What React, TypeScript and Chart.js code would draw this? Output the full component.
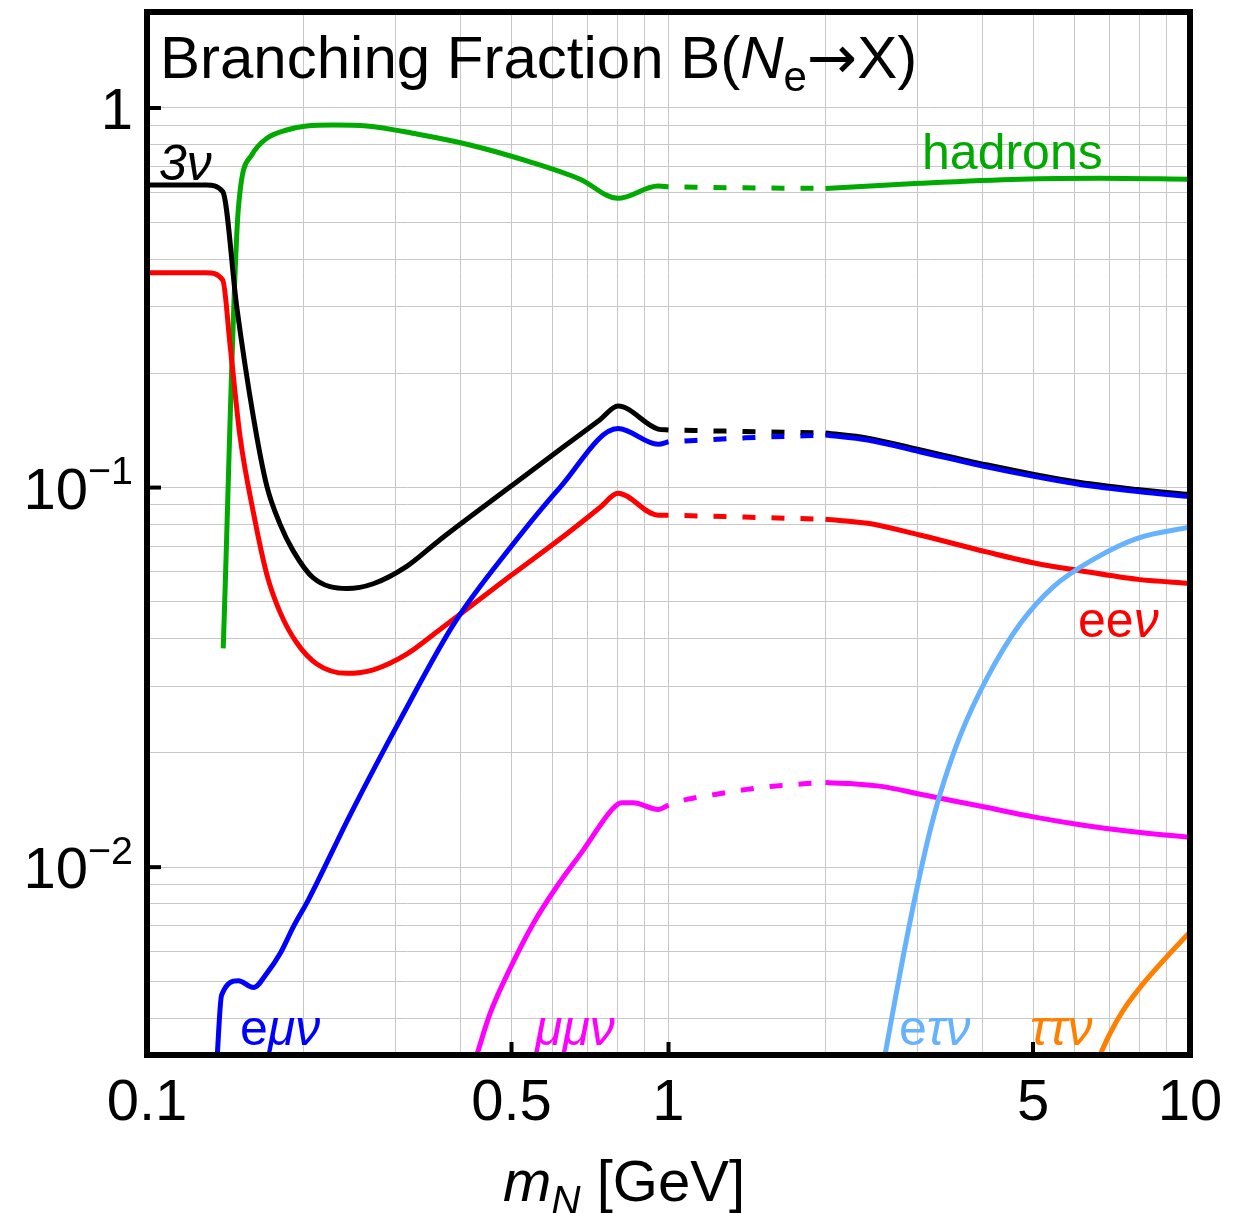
import React, { useEffect, useRef } from 'react';
import { Chart, registerables } from 'chart.js';
Chart.register(...registerables);

// ---------- axes / grid ----------
const X_MIN = 0.1;
const X_MAX = 10;
const Y_MIN = 0.0032;
const Y_MAX = 1.79;
const X_GRID = [0.1, 0.2, 0.3, 0.4, 0.5, 0.6, 0.7, 0.8, 0.9, 1, 2, 3, 4, 5, 6, 7, 8, 9, 10];
const Y_GRID = [0.004, 0.005, 0.006, 0.007, 0.008, 0.009, 0.01, 0.02, 0.03, 0.04, 0.05, 0.06, 0.07, 0.08, 0.09, 0.1, 0.2, 0.3, 0.4, 0.5, 0.6, 0.7, 0.8, 0.9, 1];
const X_TICKS = [0.1, 0.5, 1, 5, 10];
const X_TICK_LABELS = ['0.1', '0.5', '1', '5', '10'];
const Y_TICKS = [1, 0.1, 0.01];
const Y_TICK_BASE = ['1', '10', '10'];
const Y_TICK_EXP = ['', '\u22121', '\u22122'];

// ---------- 3 nu (black) ----------
const NU3_SOLID_X = [0.1, 0.13, 0.1397, 0.1486, 0.16, 0.1697, 0.18, 0.1908, 0.2084, 0.2415, 0.2716, 0.3148, 0.3646, 0.5, 0.633, 0.739, 0.8, 0.955, 1.0];
const NU3_SOLID_Y = [0.627, 0.627, 0.602, 0.30, 0.153, 0.101, 0.080, 0.068, 0.0578, 0.0542, 0.0558, 0.062, 0.0729, 0.1011, 0.1289, 0.1509, 0.164, 0.1426, 0.1418];
const NU3_DASH_X = [1.0, 1.4, 2.0];
const NU3_DASH_Y = [0.1418, 0.1405, 0.1392];
const NU3_RIGHT_X = [2.0, 2.41, 3.03, 4.07, 5.08, 6.16, 7.94, 10];
const NU3_RIGHT_Y = [0.1392, 0.1350, 0.1258, 0.1148, 0.1080, 0.1031, 0.0988, 0.0957];

// ---------- e mu nu (blue) ----------
const EMU_SOLID_X = [0.136, 0.139, 0.1497, 0.16, 0.1697, 0.18, 0.1908, 0.2038, 0.245, 0.3056, 0.3895, 0.4966, 0.619, 0.8, 0.955, 1.0];
const EMU_SOLID_Y = [0.0030, 0.0046, 0.00502, 0.00482, 0.00525, 0.00592, 0.00696, 0.00819, 0.0137, 0.0244, 0.0442, 0.0693, 0.100, 0.143, 0.130, 0.132];
const EMU_DASH_X = [1.0, 1.4, 2.0];
const EMU_DASH_Y = [0.132, 0.1352, 0.1375];
const EMU_RIGHT_X = [2.0, 2.41, 3.03, 4.07, 5.08, 6.16, 7.94, 10];
const EMU_RIGHT_Y = [0.1375, 0.1334, 0.1243, 0.1134, 0.1067, 0.1019, 0.0976, 0.0946];

// ---------- e e nu (red) ----------
const EENU_SOLID_X = [0.1, 0.13, 0.1397, 0.1443, 0.1508, 0.16, 0.1697, 0.18, 0.1937, 0.2116, 0.2415, 0.2716, 0.3148, 0.3646, 0.5, 0.633, 0.739, 0.8, 0.955, 1.0];
const EENU_SOLID_Y = [0.368, 0.368, 0.352, 0.238, 0.1363, 0.0858, 0.0591, 0.0469, 0.0390, 0.0343, 0.0324, 0.0331, 0.0364, 0.0423, 0.0588, 0.0749, 0.0886, 0.0966, 0.0846, 0.0846];
const EENU_DASH_X = [1.0, 1.4, 2.0];
const EENU_DASH_Y = [0.0846, 0.0836, 0.0825];
const EENU_RIGHT_X = [2.0, 2.41, 3.03, 4.07, 5.08, 6.16, 7.94, 10];
const EENU_RIGHT_Y = [0.0825, 0.0805, 0.0750, 0.0677, 0.0631, 0.0604, 0.0573, 0.0559];

// ---------- hadrons (green) ----------
const HAD_SOLID_X = [0.14, 0.1497, 0.1588, 0.1697, 0.1853, 0.2024, 0.2276, 0.2638, 0.329, 0.4163, 0.5426, 0.6766, 0.8, 0.955, 1.0];
const HAD_SOLID_Y = [0.0377, 0.544, 0.752, 0.832, 0.875, 0.897, 0.902, 0.897, 0.854, 0.799, 0.721, 0.649, 0.578, 0.623, 0.62];
const HAD_DASH_X = [1.0, 1.4, 2.0];
const HAD_DASH_Y = [0.62, 0.616, 0.614];
const HAD_RIGHT_X = [2.0, 3.03, 4.72, 6.72, 10];
const HAD_RIGHT_Y = [0.614, 0.633, 0.649, 0.653, 0.649];

// ---------- mu mu nu (magenta) ----------
const MUMU_SOLID_X = [0.426, 0.4547, 0.4966, 0.5506, 0.6104, 0.6865, 0.7834, 0.8128, 0.8556, 0.955, 1.0];
const MUMU_SOLID_Y = [0.0031, 0.00411, 0.00540, 0.00711, 0.00888, 0.01109, 0.01429, 0.01477, 0.01477, 0.01419, 0.01457];
const MUMU_DASH_X = [1.0, 1.084, 1.237, 1.413, 1.589, 1.841, 2.0];
const MUMU_DASH_Y = [0.01457, 0.01508, 0.01557, 0.01603, 0.01634, 0.0166, 0.0167];
const MUMU_RIGHT_X = [2.0, 2.23, 2.58, 2.99, 3.47, 4.02, 5.01, 6.24, 7.79, 10];
const MUMU_RIGHT_Y = [0.0167, 0.0166, 0.0163, 0.01564, 0.0150, 0.01442, 0.01357, 0.0129, 0.01239, 0.01198];

// ---------- e tau nu (light blue) ----------
const ETAU_X = [2.59, 2.70, 2.82, 2.99, 3.17, 3.32, 3.622, 4.08, 4.72, 5.46, 6.54, 7.95, 10];
const ETAU_Y = [0.0031, 0.00424, 0.00584, 0.0087, 0.0124, 0.01564, 0.02214, 0.03148, 0.04369, 0.0547, 0.0648, 0.0736, 0.0787];

// ---------- tau tau nu (orange) ----------
const TAUTAU_X = [6.65, 7.02, 7.45, 8.14, 9.02, 10];
const TAUTAU_Y = [0.0031, 0.00364, 0.0042, 0.00494, 0.0058, 0.00675];

const COLORS = {
  nu3: '#000000',
  emu: '#0000ff',
  eenu: '#ff0000',
  had: '#00aa00',
  mumu: '#ff00ff',
  etau: '#66b2ff',
  tautau: '#ff8000',
};

const FONT = '"Liberation Sans", Arial, Helvetica, sans-serif';

type Part = { t: string; italic?: boolean; sub?: boolean; sup?: boolean; font?: string; scale?: number };

function drawRich(ctx: any, parts: Part[], x: number, y: number, size: number, color: string, align: string) {
  const fontFor = (p: Part) => {
    const s = (p.sub ? size * 0.7 : p.sup ? size * 0.68 : size) * (p.scale || 1);
    return `${p.italic ? 'italic ' : ''}${s}px ${p.font || FONT}`;
  };
  const widths = parts.map((p) => {
    ctx.font = fontFor(p);
    return ctx.measureText(p.t).width;
  });
  const total = widths.reduce((a, b) => a + b, 0);
  let cx = align === 'left' ? x : align === 'right' ? x - total : x - total / 2;
  ctx.fillStyle = color;
  ctx.textBaseline = 'alphabetic';
  ctx.textAlign = 'left';
  parts.forEach((p, i) => {
    ctx.font = fontFor(p);
    const dy = p.sub ? size * 0.22 : p.sup ? -size * 0.42 : 0;
    ctx.fillText(p.t, cx, y + dy);
    cx += widths[i];
  });
}

// curve labels: anchor in data coordinates (left edge, baseline)
const CURVE_LABELS: { parts: Part[]; x: number; y: number; color: string }[] = [
  { parts: [{ t: '3\u03bd', italic: true }], x: 0.1054, y: 0.646, color: COLORS.nu3 },
  { parts: [{ t: 'hadrons' }], x: 3.063, y: 0.691, color: COLORS.had },
  { parts: [{ t: 'ee' }, { t: '\u03bd', italic: true }], x: 6.10, y: 0.0404, color: COLORS.eenu },
  { parts: [{ t: 'e' }, { t: '\u03bc\u03bd', italic: true }], x: 0.1508, y: 0.0034, color: COLORS.emu },
  { parts: [{ t: '\u03bc\u03bc\u03bd', italic: true }], x: 0.5546, y: 0.0034, color: COLORS.mumu },
  { parts: [{ t: 'e' }, { t: '\u03c4\u03bd', italic: true }], x: 2.767, y: 0.0034, color: COLORS.etau },
  { parts: [{ t: '\u03c4\u03c4\u03bd', italic: true }], x: 4.934, y: 0.0034, color: COLORS.tautau },
];

const TITLE: Part[] = [
  { t: 'Branching Fraction B(' },
  { t: 'N', italic: true },
  { t: 'e', sub: true },
  { t: '\u2192', font: '"DejaVu Sans", sans-serif', scale: 1.0 },
  { t: 'X)' },
];
const X_TITLE: Part[] = [{ t: 'm', italic: true }, { t: 'N', italic: true, sub: true }, { t: ' [GeV]' }];

const overlay = {
  id: 'overlay',
  afterDraw(chart: any) {
    const { ctx, chartArea: a } = chart;
    const xs = chart.scales.x;
    const ys = chart.scales.y;
    ctx.save();
    // curve labels
    for (const l of CURVE_LABELS) {
      drawRich(ctx, l.parts, xs.getPixelForValue(l.x), ys.getPixelForValue(l.y), 50, l.color, 'left');
    }
    // title
    drawRich(ctx, TITLE, a.left + 13, a.top + 66, 60, '#000', 'left');
    // ticks
    ctx.strokeStyle = '#000';
    ctx.lineWidth = 4;
    ctx.lineCap = 'butt';
    for (const v of Y_TICKS) {
      const py = ys.getPixelForValue(v);
      ctx.beginPath();
      ctx.moveTo(a.left, py);
      ctx.lineTo(a.left + 14, py);
      ctx.stroke();
    }
    for (const v of X_TICKS) {
      const px = xs.getPixelForValue(v);
      ctx.beginPath();
      ctx.moveTo(px, a.bottom);
      ctx.lineTo(px, a.bottom - 13);
      ctx.stroke();
    }
    // frame
    ctx.lineWidth = 6;
    ctx.lineJoin = 'miter';
    ctx.strokeRect(a.left, a.top, a.right - a.left, a.bottom - a.top);
    // y tick labels
    Y_TICKS.forEach((v, i) => {
      const py = ys.getPixelForValue(v);
      const parts: Part[] = [{ t: Y_TICK_BASE[i] }];
      if (Y_TICK_EXP[i]) parts.push({ t: Y_TICK_EXP[i], sup: true });
      drawRich(ctx, parts, a.left - 14, py + 21, 58, '#000', 'right');
    });
    // x tick labels
    X_TICKS.forEach((v, i) => {
      const px = xs.getPixelForValue(v);
      drawRich(ctx, [{ t: X_TICK_LABELS[i] }], px, a.bottom + 65, 58, '#000', 'center');
    });
    // x axis title
    drawRich(ctx, X_TITLE, 503, a.bottom + 146, 58, '#000', 'left');
    ctx.restore();
  },
};

export default function App() {
  const ref = useRef<HTMLCanvasElement>(null);
  useEffect(() => {
    document.body.style.margin = '0';
    const canvas = ref.current;
    if (!canvas) return;
    const mk = (xs: number[], ys: number[]) => xs.map((x, i) => ({ x, y: ys[i] }));
    const solid = (label: string, xs: number[], ys: number[], color: string, order: number) => ({
      label,
      data: mk(xs, ys),
      borderColor: color,
      backgroundColor: color,
      borderWidth: 5,
      pointRadius: 0,
      pointHoverRadius: 0,
      cubicInterpolationMode: 'monotone',
      fill: false,
      order,
      borderJoinStyle: 'round',
    });
    const dashed = (label: string, xs: number[], ys: number[], color: string, order: number) => ({
      ...solid(label, xs, ys, color, order),
      borderDash: [13, 16],
      borderDashOffset: 13,
    });
    const datasets: any[] = [
      solid('had', HAD_SOLID_X, HAD_SOLID_Y, COLORS.had, 6),
      dashed('had-d', HAD_DASH_X, HAD_DASH_Y, COLORS.had, 6),
      solid('had-r', HAD_RIGHT_X, HAD_RIGHT_Y, COLORS.had, 6),
      solid('nu3', NU3_SOLID_X, NU3_SOLID_Y, COLORS.nu3, 5),
      dashed('nu3-d', NU3_DASH_X, NU3_DASH_Y, COLORS.nu3, 5),
      solid('nu3-r', NU3_RIGHT_X, NU3_RIGHT_Y, COLORS.nu3, 5),
      solid('ee', EENU_SOLID_X, EENU_SOLID_Y, COLORS.eenu, 4),
      dashed('ee-d', EENU_DASH_X, EENU_DASH_Y, COLORS.eenu, 4),
      solid('ee-r', EENU_RIGHT_X, EENU_RIGHT_Y, COLORS.eenu, 4),
      solid('emu', EMU_SOLID_X, EMU_SOLID_Y, COLORS.emu, 3),
      dashed('emu-d', EMU_DASH_X, EMU_DASH_Y, COLORS.emu, 3),
      solid('emu-r', EMU_RIGHT_X, EMU_RIGHT_Y, COLORS.emu, 3),
      solid('mumu', MUMU_SOLID_X, MUMU_SOLID_Y, COLORS.mumu, 2),
      dashed('mumu-d', MUMU_DASH_X, MUMU_DASH_Y, COLORS.mumu, 2),
      solid('mumu-r', MUMU_RIGHT_X, MUMU_RIGHT_Y, COLORS.mumu, 2),
      solid('etau', ETAU_X, ETAU_Y, COLORS.etau, 1),
      solid('tautau', TAUTAU_X, TAUTAU_Y, COLORS.tautau, 1),
    ];
    const chart = new Chart(canvas, {
      type: 'line',
      data: { datasets },
      options: {
        animation: false,
        responsive: false,
        maintainAspectRatio: false,
        devicePixelRatio: 1,
        events: [],
        layout: { padding: { left: 0, right: 65, top: 12, bottom: 0 } },
        plugins: { legend: { display: false }, tooltip: { enabled: false }, title: { display: false } },
        scales: {
          x: {
            type: 'logarithmic',
            min: X_MIN,
            max: X_MAX,
            bounds: 'data',
            afterBuildTicks: (s: any) => {
              s.ticks = X_GRID.map((v) => ({ value: v }));
            },
            afterFit: (s: any) => {
              s.height = 158;
            },
            ticks: { display: false },
            grid: { color: '#c8c8c8', lineWidth: 1, drawTicks: false, tickLength: 0 },
            border: { display: false },
          },
          y: {
            type: 'logarithmic',
            min: Y_MIN,
            max: Y_MAX,
            bounds: 'data',
            afterBuildTicks: (s: any) => {
              s.ticks = Y_GRID.map((v) => ({ value: v }));
            },
            afterFit: (s: any) => {
              s.width = 147;
            },
            ticks: { display: false },
            grid: { color: '#c8c8c8', lineWidth: 1, drawTicks: false, tickLength: 0 },
            border: { display: false },
          },
        },
      } as any,
      plugins: [overlay],
    });
    return () => chart.destroy();
  }, []);
  return (
    <div style={{ width: 1255, height: 1213 }}>
      <canvas ref={ref} width={1255} height={1213} style={{ display: 'block', width: 1255, height: 1213 }} />
    </div>
  );
}
